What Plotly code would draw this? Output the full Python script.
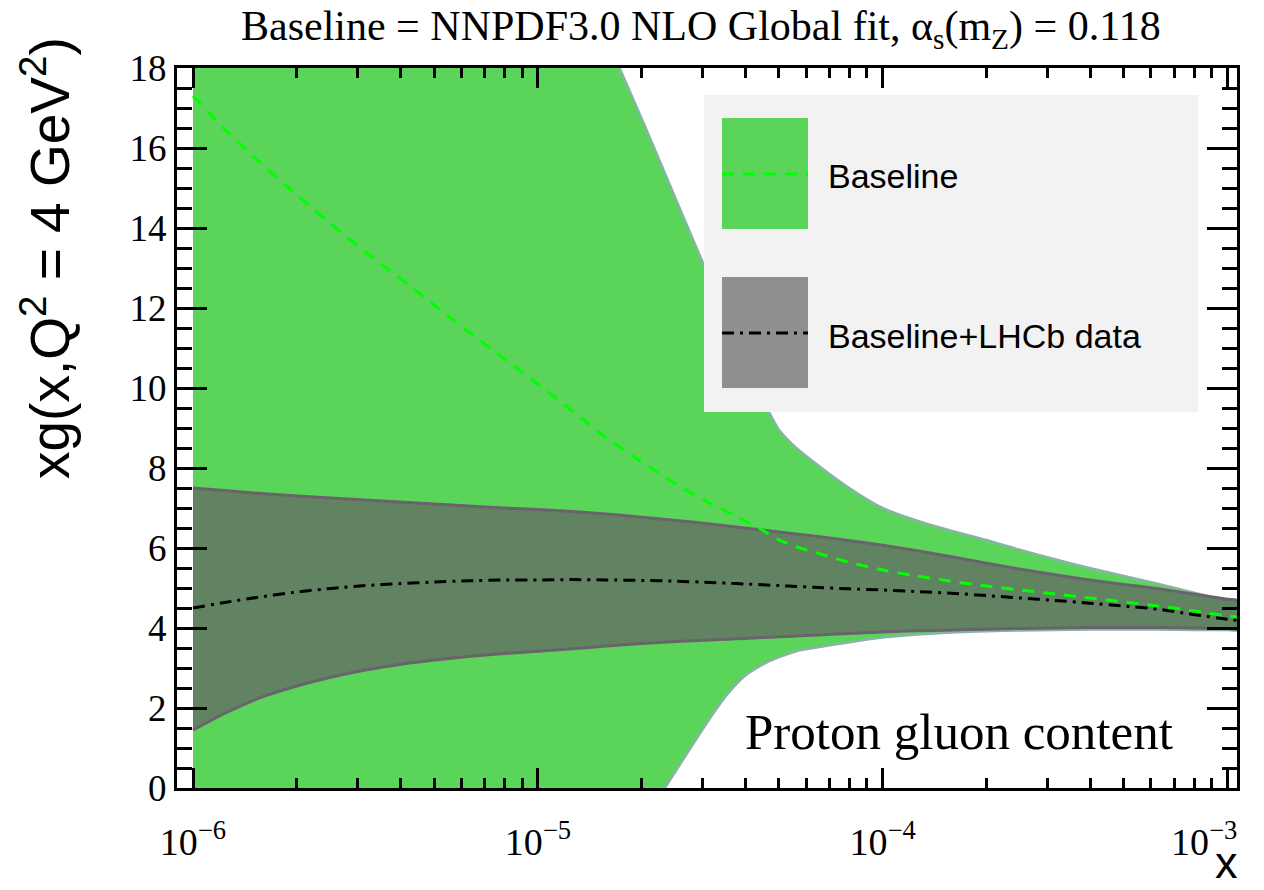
import plotly.graph_objects as go

# ---- data ----
x = [1.0e-6, 1.26e-6, 1.58e-6, 2.0e-6, 2.51e-6, 3.16e-6, 3.98e-6, 5.01e-6, 6.31e-6, 7.94e-6,
     1.0e-5, 1.26e-5, 1.58e-5, 2.0e-5, 2.51e-5, 3.16e-5, 3.55e-5, 3.98e-5, 4.47e-5, 5.01e-5,
     5.62e-5, 6.31e-5, 7.94e-5, 1.0e-4, 1.26e-4, 1.58e-4, 2.0e-4, 2.51e-4, 3.16e-4, 3.98e-4,
     5.01e-4, 6.31e-4, 7.94e-4, 1.0e-3, 1.07e-3]

baseline_up = [42.9, 40.9, 38.9, 36.9, 34.9, 32.9, 30.8, 28.8, 26.8, 24.8,
               22.8, 20.8, 18.76, 16.74, 14.73, 12.71, 11.7, 10.7, 9.75, 8.95,
               8.5, 8.15, 7.52, 7.0, 6.68, 6.43, 6.2, 5.95, 5.72, 5.5,
               5.3, 5.1, 4.89, 4.68, 4.62]
baseline_lo = [-17.8, -16.5, -15.2, -13.9, -12.6, -11.3, -10.0, -8.7, -7.4, -6.1,
               -4.8, -3.5, -2.2, -0.9, 0.42, 1.75, 2.35, 2.8, 3.08, 3.27,
               3.42, 3.5, 3.64, 3.76, 3.84, 3.89, 3.92, 3.94, 3.95, 3.96,
               3.96, 3.96, 3.95, 3.95, 3.95]
baseline_cv = [17.3, 16.4, 15.6, 14.83, 14.1, 13.4, 12.75, 12.07, 11.4, 10.75,
               10.1, 9.42, 8.75, 8.15, 7.6, 7.12, 6.9, 6.68, 6.45, 6.2,
               6.03, 5.9, 5.65, 5.45, 5.3, 5.17, 5.05, 4.95, 4.85, 4.75,
               4.65, 4.55, 4.43, 4.3, 4.27]

lhcb_up = [7.5, 7.43, 7.36, 7.3, 7.25, 7.2, 7.15, 7.1, 7.05, 7.0,
           6.96, 6.91, 6.85, 6.77, 6.69, 6.6, 6.55, 6.5, 6.45, 6.4,
           6.35, 6.3, 6.19, 6.07, 5.93, 5.78, 5.62, 5.47, 5.33, 5.2,
           5.09, 4.98, 4.85, 4.72, 4.68]
lhcb_lo = [1.45, 1.9, 2.27, 2.55, 2.77, 2.95, 3.09, 3.2, 3.29, 3.36,
           3.42, 3.48, 3.55, 3.61, 3.66, 3.7, 3.72, 3.74, 3.76, 3.78,
           3.8, 3.82, 3.86, 3.9, 3.93, 3.95, 3.97, 3.99, 4.0, 4.01,
           4.01, 4.01, 4.0, 3.99, 3.98]
lhcb_cv = [4.5, 4.65, 4.78, 4.9, 4.99, 5.06, 5.11, 5.15, 5.18, 5.2,
           5.2, 5.21, 5.2, 5.19, 5.17, 5.14, 5.12, 5.1, 5.08, 5.06,
           5.04, 5.02, 4.98, 4.95, 4.91, 4.87, 4.81, 4.75, 4.69, 4.62,
           4.55, 4.47, 4.34, 4.22, 4.19]

x_tickvals = [1e-6, 1e-5, 1e-4, 1e-3]
x_ticktext = ["10<sup>\u22126</sup>", "10<sup>\u22125</sup>", "10<sup>\u22124</sup>", ""]
last_tick_label = "10<sup>\u22123</sup>"
x_minor = [m * d for d in (1e-6, 1e-5, 1e-4) for m in range(2, 10)]
legend_labels = ["Baseline", "Baseline+LHCb data"]

GREEN = "rgb(90,213,90)"
GREEN_EDGE = "rgb(135,180,165)"
GRAY = "rgba(100,100,100,0.72)"
GRAY_EDGE = "rgb(105,100,108)"
SERIF = "Liberation Serif"
SANS = "Liberation Sans"
SM = 0.7

fig = go.Figure()
fig.add_trace(go.Scatter(x=x + x[::-1], y=baseline_up + baseline_lo[::-1], fill="toself",
                         fillcolor=GREEN, mode="lines",
                         line=dict(color=GREEN_EDGE, width=2.5, shape="spline", smoothing=SM),
                         hoverinfo="skip", showlegend=False))
fig.add_trace(go.Scatter(x=x + x[::-1], y=lhcb_up + lhcb_lo[::-1], fill="toself",
                         fillcolor=GRAY, mode="lines",
                         line=dict(color=GRAY_EDGE, width=3, shape="spline", smoothing=SM),
                         hoverinfo="skip", showlegend=False))
fig.add_trace(go.Scatter(x=x, y=baseline_cv, mode="lines",
                         line=dict(color="#00ff00", width=3, dash="12px,9px", shape="spline", smoothing=SM),
                         showlegend=False))
fig.add_trace(go.Scatter(x=x, y=lhcb_cv, mode="lines",
                         line=dict(color="black", width=3, dash="12px,6px,3px,6px", shape="spline", smoothing=SM),
                         showlegend=False))

L, R, T, B = 177, 1237, 68, 788


def px(v):
    return (v - L) / (R - L)


def py(v):
    return (B - v) / (B - T)


fig.update_layout(
    width=1264, height=890,
    margin=dict(l=L, r=1264 - R, t=T, b=890 - B, autoexpand=False),
    paper_bgcolor="white", plot_bgcolor="white",
    showlegend=False,
    font=dict(family=SERIF, color="black"),
)
fig.update_xaxes(type="log", range=[-6.0464, -2.9724], automargin=False,
                 tickvals=x_tickvals, ticktext=x_ticktext,
                 ticks="inside", ticklen=20, tickwidth=3, tickcolor="black",
                 ticklabelstandoff=18,
                 showline=True, linewidth=3, linecolor="black", mirror="allticks",
                 showgrid=False, zeroline=False,
                 tickfont=dict(family=SERIF, size=38, color="black"),
                 minor=dict(tickvals=x_minor, ticks="inside", ticklen=10, tickwidth=2.5,
                            tickcolor="black", showgrid=False))
fig.update_yaxes(range=[0, 18], dtick=2, tick0=0, automargin=False,
                 ticks="inside", ticklen=30, tickwidth=3, tickcolor="black",
                 showline=True, linewidth=3, linecolor="black", mirror="allticks",
                 showgrid=False, zeroline=False,
                 tickfont=dict(family=SERIF, size=37, color="black"),
                 minor=dict(dtick=0.5, ticks="inside", ticklen=15, tickwidth=2.5,
                            tickcolor="black", showgrid=False))

shapes = [
    dict(type="rect", xref="paper", yref="paper", x0=px(704), x1=px(1198), y0=py(412), y1=py(95),
         fillcolor="#f2f2f2", line=dict(width=0), layer="above"),
    dict(type="rect", xref="paper", yref="paper", x0=px(722), x1=px(808), y0=py(229), y1=py(118),
         fillcolor=GREEN, line=dict(width=0), layer="above"),
    dict(type="line", xref="paper", yref="paper", x0=px(722), x1=px(808), y0=py(174), y1=py(174),
         line=dict(color="#00ff00", width=3, dash="12px,9px"), layer="above"),
    dict(type="rect", xref="paper", yref="paper", x0=px(722), x1=px(808), y0=py(388), y1=py(277),
         fillcolor="rgb(143,143,143)", line=dict(width=0), layer="above"),
    dict(type="line", xref="paper", yref="paper", x0=px(722), x1=px(808), y0=py(333), y1=py(333),
         line=dict(color="black", width=3, dash="12px,6px,3px,6px"), layer="above"),
]
fig.update_layout(shapes=shapes)

ann = [
    dict(text="Baseline = NNPDF3.0 NLO Global fit, \u03b1<sub>s</sub>(m<sub>Z</sub>) = 0.118",
         x=px(701), y=py(29), xref="paper", yref="paper", showarrow=False,
         xanchor="center", yanchor="middle", font=dict(family=SERIF, size=42, color="black")),
    dict(text="xg(x,Q<sup>2</sup> = 4 GeV<sup>2</sup>)", textangle=-90,
         x=px(46), y=py(258), xref="paper", yref="paper", showarrow=False,
         xanchor="center", yanchor="middle", font=dict(family=SANS, size=55, color="black")),
    dict(text="x", x=px(1226), y=py(889), xref="paper", yref="paper", showarrow=False,
         xanchor="center", yanchor="bottom", borderpad=0,
         font=dict(family=SANS, size=45, color="black")),
    dict(text=last_tick_label, x=px(1204), y=py(839), xref="paper", yref="paper", showarrow=False,
         xanchor="center", yanchor="middle", font=dict(family=SERIF, size=38, color="black")),
    dict(text="Proton gluon content", x=px(959), y=py(732), xref="paper", yref="paper",
         showarrow=False, xanchor="center", yanchor="middle",
         font=dict(family=SERIF, size=51, color="black")),
    dict(text=legend_labels[0], x=px(826), y=py(176), xref="paper", yref="paper", showarrow=False,
         xanchor="left", yanchor="middle", font=dict(family=SANS, size=34, color="black")),
    dict(text=legend_labels[1], x=px(826), y=py(336), xref="paper", yref="paper", showarrow=False,
         xanchor="left", yanchor="middle", font=dict(family=SANS, size=34, color="black")),
]
fig.update_layout(annotations=ann)

fig.write_html("out.html")
